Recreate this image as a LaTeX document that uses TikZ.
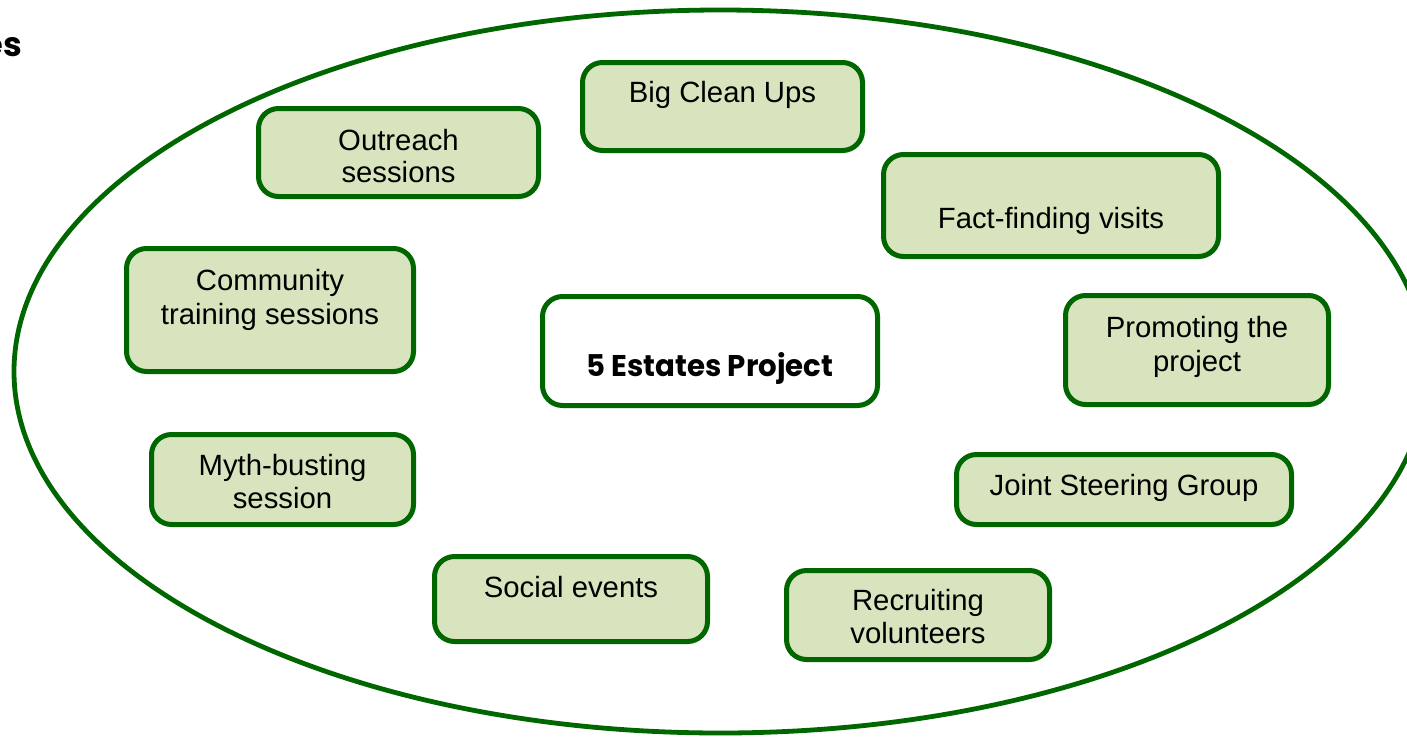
\documentclass[tikz,border=0pt]{standalone}
\usepackage{fontspec}
\usepackage{graphicx}
\setmainfont{Liberation Sans}
\newfontfamily\gothic{Poppins}
\definecolor{dgreen}{RGB}{0,102,0}
\definecolor{lgreen}{RGB}{215,228,189}
\begin{document}
\begin{tikzpicture}[x=1pt,y=-1pt,
  box/.style={draw=dgreen,line width=5pt,fill=lgreen,rounded corners=20pt,inner sep=0pt,rectangle},
  whitebox/.style={box,fill=white},
  lbl/.style={anchor=base,inner sep=0pt,font=\fontsize{29.3}{33}\selectfont,text=black},
  ttl/.style={anchor=base,inner sep=0pt,text=black}]
\clip (0,0) rectangle (1407,737);
\fill[white] (0,0) rectangle (1407,737);
\draw[dgreen,line width=4.8pt] (720.5,371.5) ellipse [x radius=706.5, y radius=361.5];
\node[ttl,anchor=base east] (es) at (22,56) {\resizebox{!}{19pt}{\gothic\bfseries es}};
% boxes
\node[box,minimum width=280pt,minimum height=88pt] (bcu) at (722.5,106.5) {};
\node[box,minimum width=280pt,minimum height=88pt] (out) at (398.5,152.5) {};
\node[box,minimum width=335pt,minimum height=102pt] (ffv) at (1051,205.5) {};
\node[box,minimum width=287pt,minimum height=123pt] (cts) at (270,310) {};
\node[whitebox,minimum width=335pt,minimum height=109pt] (est) at (710,351) {};
\node[box,minimum width=263pt,minimum height=109pt] (ptp) at (1197,350) {};
\node[box,minimum width=262pt,minimum height=90pt] (mbs) at (282.5,479.5) {};
\node[box,minimum width=335pt,minimum height=70pt] (jsg) at (1124,489.5) {};
\node[box,minimum width=273pt,minimum height=85pt] (soc) at (571,599) {};
\node[box,minimum width=263pt,minimum height=89pt] (rec) at (918,615) {};
% texts
\node[lbl] (tbcu) at (722.5,102) {Big Clean Ups};
\node[lbl] (tout1) at (398.5,150) {Outreach};
\node[lbl] (tout2) at (398.5,182) {sessions};
\node[lbl] (tffv) at (1051,228) {Fact-finding visits};
\node[lbl] (tcts1) at (270,290) {Community};
\node[lbl] (tcts2) at (270,324) {training sessions};
\node[ttl] (test) at (710,376) {\resizebox{247pt}{24pt}{\gothic\bfseries 5 Estates Project}};
\node[lbl] (tptp1) at (1197,337) {Promoting the};
\node[lbl] (tptp2) at (1197,371) {project};
\node[lbl] (tmbs1) at (282.5,475) {Myth-busting};
\node[lbl] (tmbs2) at (282.5,508) {session};
\node[lbl] (tjsg) at (1124,495) {Joint Steering Group};
\node[lbl] (tsoc) at (571,597) {Social events};
\node[lbl] (trec1) at (918,610) {Recruiting};
\node[lbl] (trec2) at (918,643) {volunteers};
\end{tikzpicture}
\end{document}
